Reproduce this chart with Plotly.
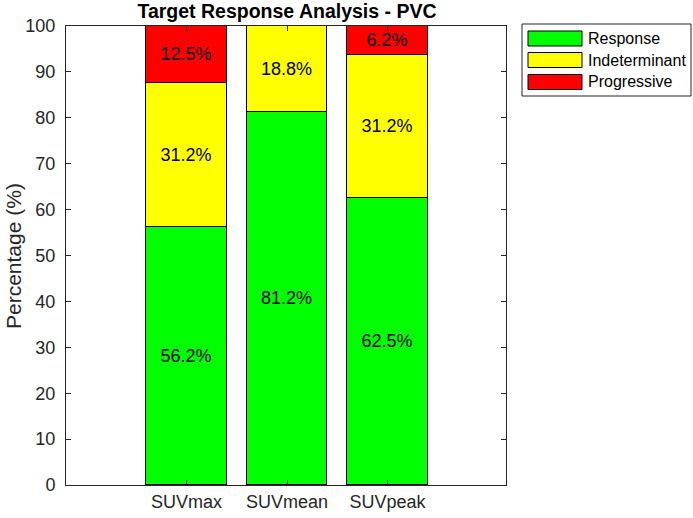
import plotly.graph_objects as go

categories = ["SUVmax", "SUVmean", "SUVpeak"]
series_names = ["Response", "Indeterminant", "Progressive"]
response = [56.25, 81.25, 62.5]
indeterminant = [31.25, 18.75, 31.25]
progressive = [12.5, 0.0, 6.25]
series_values = [response, indeterminant, progressive]
series_colors = ["#00FF00", "#FFFF00", "#FF0000"]
y_ticks = list(range(0, 101, 10))

W, H = 693, 518
L, R, T, B = 66, 187, 26, 33
PW, PH = W - L - R, H - T - B
FONT = "Liberation Sans, Arial, Helvetica, sans-serif"
AX = "#262626"

def px_x(px):
    return (px - L) / PW

def px_y(py):
    return (H - B - py) / PH

positions = list(range(1, len(categories) + 1))

fig = go.Figure()
for name, vals, col in zip(series_names, series_values, series_colors):
    fig.add_trace(go.Bar(
        x=positions, y=vals, name=name, width=0.8,
        marker=dict(color=col, line=dict(color="#000000", width=1)),
        text=[f"{v:.1f}%" if v > 0 else "" for v in vals],
        textposition="inside", insidetextanchor="middle",
        constraintext="none", textangle=0,
        textfont=dict(family=FONT, size=18, color="#000000"),
        showlegend=False, hoverinfo="skip",
    ))

# manual MATLAB-style legend
shapes = [dict(type="rect", xref="paper", yref="paper",
               x0=px_x(522), x1=px_x(691), y0=px_y(96), y1=px_y(24),
               line=dict(color=AX, width=1), fillcolor="white", layer="above")]
annotations = []
row_centers = [38.5, 60, 82]
for name, col, cy in zip(series_names, series_colors, row_centers):
    shapes.append(dict(type="rect", xref="paper", yref="paper",
                       x0=px_x(528), x1=px_x(582), y0=px_y(cy + 7.5), y1=px_y(cy - 7.5),
                       line=dict(color="#000000", width=1), fillcolor=col, layer="above"))
    annotations.append(dict(xref="paper", yref="paper", x=px_x(586), y=px_y(cy),
                            xanchor="left", yanchor="middle", showarrow=False,
                            text=name, font=dict(family=FONT, size=16, color="#000000")))

annotations.append(dict(xref="paper", yref="paper", x=px_x(13), y=px_y(256),
                        xanchor="center", yanchor="middle", showarrow=False, textangle=-90,
                        text="Percentage (%)", font=dict(family=FONT, size=21, color=AX)))

fig.update_layout(
    width=W, height=H, margin=dict(l=L, r=R, t=T, b=B, pad=0, autoexpand=False),
    barmode="stack", bargap=0,
    paper_bgcolor="white", plot_bgcolor="white",
    title=dict(text="<b>Target Response Analysis - PVC</b>", x=px_x(287), xref="paper",
               xanchor="center", y=1 - 11 / H, yref="container", yanchor="middle",
               font=dict(family=FONT, size=19.5, color="#000000")),
    shapes=shapes, annotations=annotations,
    xaxis=dict(range=[-0.2, 4.18], tickvals=positions, ticktext=categories,
               ticks="inside", ticklen=5, tickcolor=AX, showline=True, linecolor=AX,
               linewidth=1, mirror="ticks", showgrid=False, zeroline=False, automargin=False,
               tickfont=dict(family=FONT, size=18, color=AX), ticklabelstandoff=0),
    yaxis=dict(range=[0, 100], tickvals=y_ticks, ticks="inside", ticklen=5, tickcolor=AX,
               showline=True, linecolor=AX, linewidth=1, mirror="ticks", showgrid=False,
               zeroline=False, automargin=False, tickfont=dict(family=FONT, size=18, color=AX),
               ticklabelstandoff=6),
)

fig.write_html("out.html")
